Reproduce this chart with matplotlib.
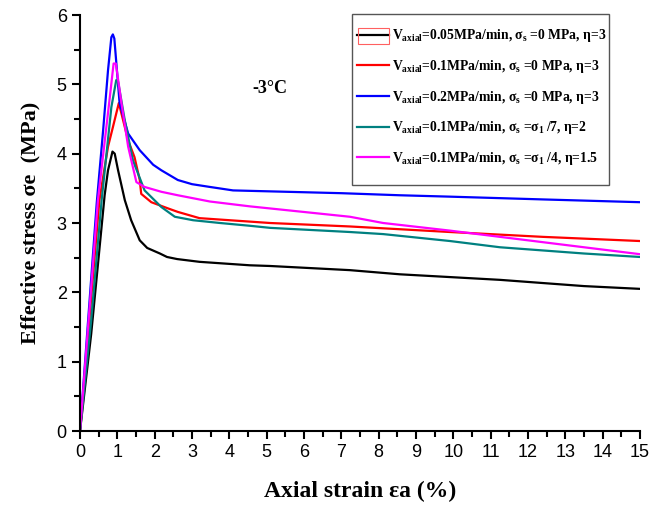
import matplotlib
matplotlib.use("Agg")
import matplotlib.pyplot as plt
from matplotlib.ticker import MultipleLocator
from matplotlib.patches import Rectangle

# Effective stress vs axial strain at -3 °C
strain_005 = [0, 0.3, 0.66, 0.75, 0.87, 0.93, 1.02, 1.2, 1.37, 1.6, 1.8, 2.14, 2.33, 2.6, 3.2,
              4.55, 5.09, 7.23, 8.57, 9.91, 11.25, 13.5, 15]
stress_005 = [0, 1.4, 3.4, 3.76, 4.03, 4.0, 3.76, 3.33, 3.04, 2.75, 2.64, 2.56, 2.51, 2.48, 2.44,
              2.39, 2.38, 2.32, 2.26, 2.22, 2.18, 2.09, 2.05]

strain_01 = [0, 0.52, 0.75, 0.88, 1.04, 1.29, 1.46, 1.6, 1.64, 1.91, 2.36, 2.62, 3.2,
             4.55, 5.09, 7.23, 8.57, 9.91, 12.4, 15]
stress_01 = [0, 3.33, 4.1, 4.38, 4.73, 4.19, 3.95, 3.62, 3.42, 3.3, 3.21, 3.16, 3.07,
             3.02, 3.0, 2.95, 2.91, 2.87, 2.80, 2.74]

strain_02 = [0, 0.45, 0.62, 0.75, 0.84, 0.88, 0.92, 1.06, 1.29, 1.6, 1.96, 2.18, 2.62, 3.0, 3.48,
             4.1, 4.82, 7.0, 8.57, 9.91, 12.4, 15]
stress_02 = [0, 3.3, 4.34, 5.2, 5.68, 5.72, 5.66, 4.73, 4.29, 4.05, 3.84, 3.76, 3.62, 3.56, 3.52,
             3.47, 3.46, 3.43, 3.40, 3.38, 3.34, 3.30]

strain_eta2 = [0, 0.3, 0.58, 0.84, 0.97, 1.02, 1.2, 1.42, 1.73, 2.18, 2.54, 3.03, 3.75,
               4.55, 5.09, 7.23, 8.12, 9.91, 11.25, 13.5, 15]
stress_eta2 = [0, 1.6, 3.33, 4.67, 5.06, 5.04, 4.48, 3.9, 3.47, 3.23, 3.09, 3.04, 3.0,
               2.96, 2.93, 2.87, 2.84, 2.74, 2.65, 2.56, 2.51]

strain_eta15 = [0, 0.48, 0.8, 0.9, 0.96, 1.11, 1.29, 1.51, 1.73, 2.18, 2.62, 3.48,
                4.55, 5.09, 7.23, 8.12, 9.91, 11.25, 13.5, 15]
stress_eta15 = [0, 3.33, 4.82, 5.3, 5.3, 4.73, 4.1, 3.59, 3.52, 3.45, 3.4, 3.31,
                3.24, 3.21, 3.09, 3.0, 2.89, 2.80, 2.65, 2.55]

labels = [
    r"V$_{axial}$=0.05MPa/min, σ$_s$ =0 MPa, η=3",
    r"V$_{axial}$=0.1MPa/min, σ$_s$ =0 MPa, η=3",
    r"V$_{axial}$=0.2MPa/min, σ$_s$ =0 MPa, η=3",
    r"V$_{axial}$=0.1MPa/min, σ$_s$ =σ$_1$ /7, η=2",
    r"V$_{axial}$=0.1MPa/min, σ$_s$ =σ$_1$ /4, η=1.5",
]
colors = ["#000000", "#ff0000", "#0000ff", "#008080", "#ff00ff"]

plt.rcParams["mathtext.fontset"] = "custom"
plt.rcParams["mathtext.rm"] = "Liberation Serif:bold"
plt.rcParams["mathtext.it"] = "Liberation Serif:bold"
plt.rcParams["mathtext.bf"] = "Liberation Serif:bold"

fig = plt.figure(figsize=(6.52, 5.07), dpi=100)
ax = fig.add_axes([80 / 652, 1 - 431 / 507, 560 / 652, 416 / 507])

series = [(strain_005, stress_005), (strain_01, stress_01), (strain_02, stress_02),
          (strain_eta2, stress_eta2), (strain_eta15, stress_eta15)]
for (xs, ys), c, lab in zip(series, colors, labels):
    ax.plot(xs, ys, color=c, lw=1.6, label=lab)

ax.set_xlim(0, 15)
ax.set_ylim(0, 6)
ax.xaxis.set_major_locator(MultipleLocator(1))
ax.xaxis.set_minor_locator(MultipleLocator(0.5))
ax.yaxis.set_major_locator(MultipleLocator(1))
ax.yaxis.set_minor_locator(MultipleLocator(0.5))
ax.spines["top"].set_visible(False)
ax.spines["right"].set_visible(False)
for s in ("left", "bottom"):
    ax.spines[s].set_linewidth(1.5)
ax.tick_params(which="major", direction="out", length=6, width=1.5, labelsize=13)
ax.tick_params(which="minor", direction="out", length=4, width=1.5)
for t in ax.get_xticklabels() + ax.get_yticklabels():
    t.set_family("Liberation Sans")

ax.set_xlabel("Axial strain εa (%)", family="Liberation Serif", fontweight="bold",
              fontsize=17, labelpad=14)
ax.set_ylabel("Effective stress σe  (MPa)", family="Liberation Serif", fontweight="bold",
              fontsize=16, labelpad=12)

ax.text(5.09, 4.94, "-3°C", family="Liberation Serif", fontweight="bold", fontsize=13,
        ha="center", va="center")

# legend entries without their own frame; the box is drawn separately
leg = ax.legend(loc="upper left", bbox_to_anchor=(0.495, 0.970), frameon=False,
                prop={"family": "Liberation Serif", "weight": "bold", "size": 9.8},
                handlelength=2.35, labelspacing=1.0, handletextpad=0.2,
                borderpad=0, borderaxespad=0)
ax.add_patch(Rectangle((272 / 560, 246 / 416), 257 / 560, 171 / 416,
                       transform=ax.transAxes, fill=False, edgecolor="#555555",
                       lw=1.0, clip_on=False, zorder=5))

# highlight box around the first legend key
fig.patches.append(Rectangle((358 / 652, 1 - 44 / 507), 31 / 652, 16 / 507,
                             transform=fig.transFigure, fill=False,
                             edgecolor="#ff6060", lw=0.8))

fig.savefig("out.png", dpi=100)
